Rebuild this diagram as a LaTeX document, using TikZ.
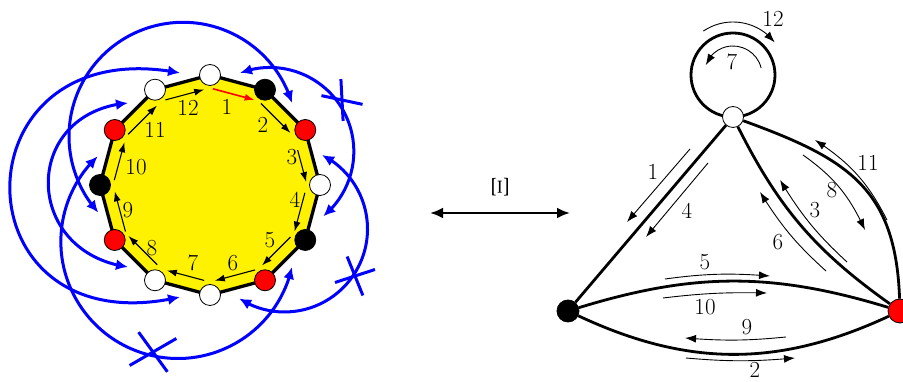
\documentclass[tikz,border=0pt]{standalone}
\usetikzlibrary{arrows.meta,calc,bending}
\begin{document}
\begin{tikzpicture}[x=1pt,y=1pt,
  vtx/.style={circle,draw,line width=0.8pt,minimum size=21pt,inner sep=0pt},
  wv/.style={vtx,fill=white}, bv/.style={vtx,fill=black}, rv/.style={vtx,fill=red},
  lab/.style={inner sep=0pt,font=\fontsize{23}{23}\selectfont},
  bluearc/.style={draw=blue,line width=3pt,{Latex[length=12pt,width=11pt]}-{Latex[length=12pt,width=11pt]}},
  crossmark/.style={draw=blue,line width=3pt},
  innerarr/.style={line width=1.1pt,-{Latex[length=10pt,width=7pt]}},
  thinarr/.style={line width=0.9pt,-{Latex[length=11pt,width=8pt]}},
  thickedge/.style={line width=2.8pt},
]
\useasboundingbox (0,0) rectangle (903,382);
% ---------- left: dodecagon ----------
\coordinate (O) at (210,197);
\foreach \i in {0,...,11} {
  \coordinate (p\i) at ($(O)+({90-30*\i}:110)$);
  \coordinate (q\i) at ($(O)+({90-30*\i}:97)$);
}
\foreach \k in {1,...,12} { \coordinate (b\k) at ($(O)+({105-30*\k}:116)$); }
\draw[line width=3.3pt,fill=yellow,line join=round]
  (p0)--(p1)--(p2)--(p3)--(p4)--(p5)--(p6)--(p7)--(p8)--(p9)--(p10)--(p11)--cycle;
\foreach \a/\b/\s/\e in {11/0/0.08/0.88, 1/2/0.07/0.9, 2/3/0.28/0.94, 3/4/0.16/0.96,
  4/5/0.1/0.9, 5/6/0.07/0.9, 6/7/0.12/0.89, 7/8/0.12/0.93, 8/9/0.04/0.87,
  9/10/0.1/0.88, 10/11/0.06/0.87}
  { \draw[innerarr] ($(q\a)!\s!(q\b)$) -- ($(q\a)!\e!(q\b)$); }
\draw[innerarr,red,line width=1.6pt] ($(q0)!0.06!(q1)$) -- ($(q0)!0.92!(q1)$);
\foreach \i/\s in {0/wv,1/bv,2/rv,3/wv,4/bv,5/rv,6/wv,7/wv,8/rv,9/bv,10/rv,11/wv}
  { \node[\s] (v\i) at (p\i) {}; }
\node[lab] (e1) at (227,275) {1};
\node[lab] (e2) at (263,257) {2};
\node[lab] (e3) at (292,225) {3};
\node[lab] (e4) at (295,182) {4};
\node[lab] (e5) at (270,142) {5};
\node[lab] (e6) at (233,119) {6};
\node[lab] (e7) at (193,119) {7};
\node[lab] (e8) at (152,134) {8};
\node[lab] (e9) at (128,172) {9};
\node[lab] (e10) at (136,215) {10};
\node[lab] (e11) at (155,252) {11};
\node[lab] (e12) at (188,274) {12};
% blue gluing arcs
\draw[bluearc] (b2) arc[start angle=17, end angle=222, radius=114];
\draw[bluearc] (b1) arc[start angle=110.8, end angle=-50.5, radius=84];
\draw[bluearc] (b3) arc[start angle=63.1, end angle=-123.1, radius=83];
\draw[bluearc] (b5) arc[start angle=-12.6, end angle=-226.7, radius=117];
\draw[bluearc] (b11) .. controls +(185:107) and +(172:107) .. (b8);
\draw[bluearc] (b12) .. controls +(169:232) and +(193:232) .. (b7);
% crosses
\coordinate (x1) at (342,282);
\coordinate (x2) at (355,106);
\coordinate (x3) at (153,30);
\draw[crossmark] (x1) ++(93:21) -- ++(273:42);
\draw[crossmark] (x1) ++(-12:21) -- ++(168:42);
\draw[crossmark] (x2) ++(18:21) -- ++(198:42);
\draw[crossmark] (x2) ++(-68:21) -- ++(112:42);
\draw[crossmark] (x3) ++(30:27) -- ++(210:54);
\draw[crossmark] (x3) ++(-54:24.5) -- ++(126:49);
% ---------- middle ----------
\coordinate (m1) at (430,169);
\coordinate (m2) at (570,169);
\draw[line width=2.8pt,{Latex[length=13pt,width=11pt]}-{Latex[length=13pt,width=11pt]}] (m1) -- (m2);
\node[inner sep=0pt,rotate=90] (xi) at (500,195) {\scalebox{3.1}[2.35]{$\Xi$}};
% ---------- right: ribbon graph ----------
\coordinate (Lc) at (733,307);
\draw[thickedge] (Lc) circle[radius=42];
\node[wv] (W) at (733,265) {};
\node[bv,minimum size=22pt] (B) at (568,71) {};
\node[rv,minimum size=24pt] (R) at (900,71) {};
\draw[thickedge] (W) -- (B);
\draw[thickedge] (B) to[bend left=17] (R);
\draw[thickedge] (B) to[bend right=25] (R);
\draw[thickedge] (W) to[bend right=14] (R);
\draw[thickedge] (W) to[out=-20,in=92,looseness=1.2] (R);
% loop annotations
\draw[thinarr] (Lc) ++(124:53) arc[start angle=124, end angle=38, radius=53];
\draw[thinarr] (Lc) ++(14:29) arc[start angle=14, end angle=160, radius=29];
\node[lab] (g12) at (773,363) {12};
\node[lab] (g7) at (732,320) {7};
% thin parallel arrows
\draw[thinarr] (690,233) -- (627,160);
\draw[thinarr] (708,219) -- (646,145);
\node[lab] (g1) at (653,210) {1};
\node[lab] (g4) at (687,171) {4};
\draw[thinarr] (665,103) to[bend left=6] (770,106);
\draw[thinarr] (663,84) to[bend left=4] (767,89);
\node[lab] (g5) at (705,120) {5};
\node[lab] (g10) at (705,75) {10};
\draw[thinarr] (786,45) to[bend left=5] (685,44);
\draw[thinarr] (686,24) to[bend right=5] (795,24);
\node[lab] (g9) at (747,55) {9};
\node[lab] (g2) at (755,12) {2};
\draw[thinarr] (887,162) to[bend right=15] (815,242);
\draw[thinarr] (803,227) to[bend left=15] (865,152);
\node[lab] (g11) at (868,219) {11};
\node[lab] (g8) at (832,192) {8};
\draw[thinarr] (847,120) to[bend left=8] (780,202);
\draw[thinarr] (826,111) to[bend left=8] (760,190);
\node[lab] (g3) at (815,172) {3};
\node[lab] (g6) at (778,140) {6};
\end{tikzpicture}
\end{document}
